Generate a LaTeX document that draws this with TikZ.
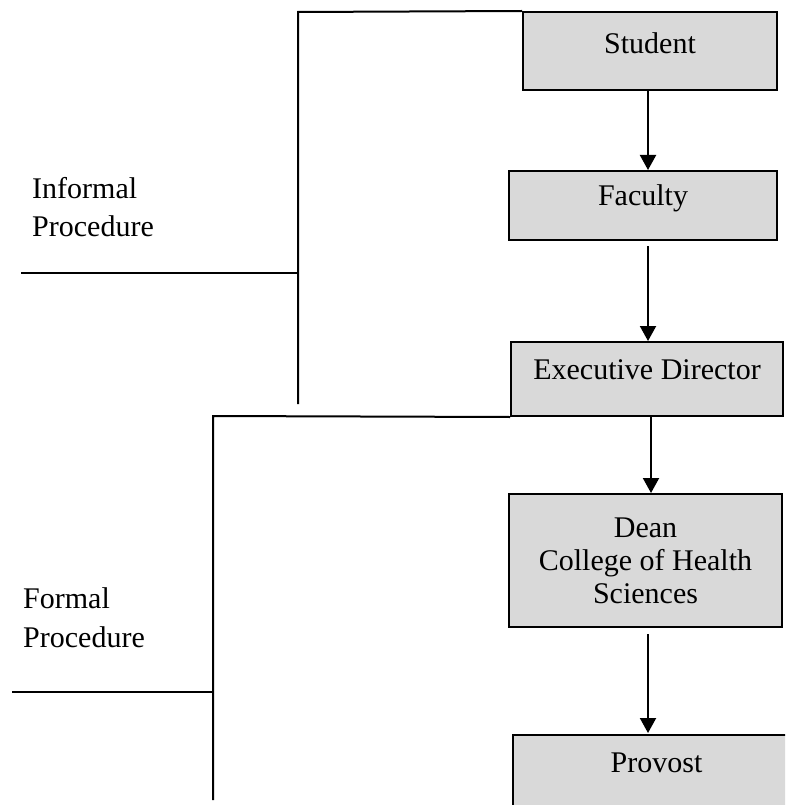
\documentclass[tikz,border=0pt]{standalone}
\usepackage{fontspec}
\setmainfont{Liberation Serif}
\usetikzlibrary{arrows.meta}
\definecolor{boxgray}{HTML}{D9D9D9}
\newcommand\liftt[2]{\raisebox{#1}[\height][\depth]{#2}}
\begin{document}
\begin{tikzpicture}[x=1pt,y=-1pt,
  box/.style={draw=black,line width=2pt,fill=boxgray,inner sep=0pt,
    font=\fontsize{30}{33}\selectfont,align=center},
  arr/.style={line width=2pt,-{Triangle[width=16pt,length=15pt]}},
  brk/.style={line width=2pt},
  lbl/.style={anchor=west,inner sep=0pt,align=left,font=\fontsize{30}{38.5}\selectfont}]
\path[use as bounding box, clip] (0,0) rectangle (785,805);
% boxes
\node[box,minimum width=254pt,minimum height=78pt] (S) at (650,51) {\liftt{8pt}{Student}};
\node[box,minimum width=268pt,minimum height=69pt] (F) at (643,205.5) {\liftt{7.5pt}{Faculty}};
\node[box,minimum width=272pt,minimum height=74pt] (E) at (647,379) {\liftt{9pt}{Executive Director}};
\node[box,minimum width=273pt,minimum height=133pt] (D) at (645.5,560.5) {Dean\\College of Health\\Sciences};
\node[box,minimum width=287pt,minimum height=80pt] (P) at (656.5,775) {\liftt{12pt}{Provost}};
% arrow columns
\coordinate (a1) at (648,0);
\coordinate (a2) at (651,0);
\draw[arr] (S.south -| a1) -- (F.north -| a1);
\draw[arr,shorten <=5pt] (F.south -| a1) -- (E.north -| a1);
\draw[arr] (E.south -| a2) -- (D.north -| a2);
\draw[arr,shorten <=6pt,shorten >=1pt] (D.south -| a1) -- (P.north -| a1);
% informal bracket
\coordinate (it) at (298,12);
\coordinate (ib) at (298,404);
\draw[brk] (S.north west) -- (it) -- (ib);
\coordinate (ih1) at (21,273);
\coordinate (ih2) at (297,273);
\draw[brk] (ih1) -- (ih2);
\node[lbl] (inf) at (32,207) {Informal\\Procedure};
% formal bracket
\coordinate (ft) at (213,416);
\coordinate (fb) at (213,800);
\draw[brk] (E.south west) -- (ft) -- (fb);
\coordinate (fh1) at (12,692);
\coordinate (fh2) at (213,692);
\draw[brk] (fh1) -- (fh2);
\node[lbl] (frm) at (23,617.5) {Formal\\Procedure};
\end{tikzpicture}
\end{document}
